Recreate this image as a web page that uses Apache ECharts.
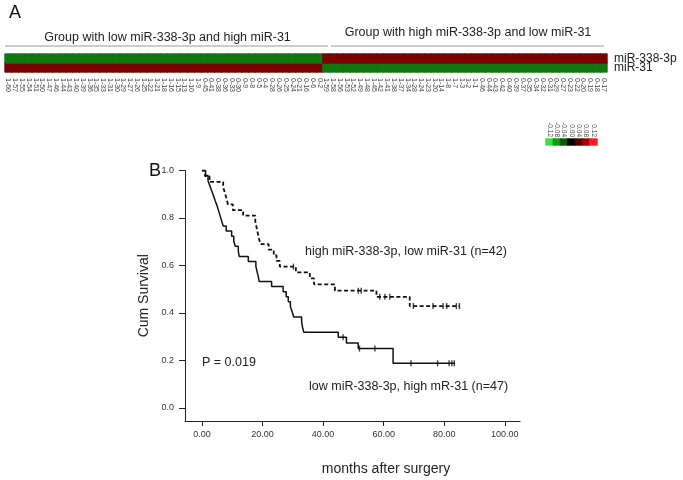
<!DOCTYPE html>
<html>
<head>
<meta charset="utf-8">
<script src="https://cdn.jsdelivr.net/npm/echarts@6/dist/echarts.min.js"></script>
<style>
  html, body { margin: 0; padding: 0; background: #fff; }
  #chart { width: 683px; height: 480px; }
</style>
</head>
<body>
<div id="chart"></div>
<script>
// --- panel A: sample ids per group and expression levels
var lowGroupIds = ['1-60','1-57','1-55','1-54','1-51','1-50','1-47','1-46','1-44','1-43','1-40','1-39','1-36','1-35','1-33','1-31','1-30','1-29','1-27','1-26','1-25','1-22','1-21','1-18','1-16','1-15','1-13','1-10','1-9',
  '0-45','0-41','0-38','0-36','0-33','0-30','0-9','0-8','0-5','0-4','0-28','0-26','0-25','0-24','0-21','0-16','0-6','0-2'];
var highGroupIds = ['1-59','1-58','1-56','1-53','1-52','1-49','1-48','1-45','1-42','1-41','1-38','1-37','1-34','1-28','1-24','1-23','1-20','1-14','1-8','1-7','1-3','1-2','1-1',
  '0-46','0-44','0-43','0-42','0-40','0-39','0-37','0-35','0-34','0-32','0-31','0-29','0-27','0-23','0-22','0-20','0-19','0-18','0-17'];
var genes = ['miR-31', 'miR-338-3p'];
var lowGroupLevels = [0.06, -0.06];   // [miR-31, miR-338-3p]
var highGroupLevels = [-0.06, 0.06];
var scaleTicks = ['-0.12','-0.08','-0.04','0.00','0.04','0.08','0.12'];
var scaleColors = ['#3ae23a','#169816','#0a560a','#000000','#560000','#a00000','#ff1c1c'];

// --- panel B: Kaplan-Meier steps [months, cum survival]
var lowMirSteps = [[0,1.0],[1.2,0.979],[2,0.957],[2.6,0.936],[3.2,0.915],[3.8,0.894],[4.4,0.872],[5,0.851],[5.5,0.83],[6,0.809],[6.5,0.787],[7,0.766],[8,0.745],[9.8,0.723],[10.5,0.702],[11,0.681],[12,0.66],[12.3,0.638],[15.3,0.617],[17.8,0.596],[18.2,0.574],[18.6,0.553],[18.9,0.532],[23,0.511],[26.8,0.489],[27.8,0.468],[28.5,0.447],[29.2,0.426],[29.8,0.404],[30.3,0.383],[32.9,0.362],[33.2,0.34],[33.6,0.319],[45,0.298],[47.7,0.274],[51.6,0.25],[63.1,0.188],[83.5,0.188]];
var lowMirCensored = [[46.6,0.298],[52,0.25],[57.1,0.25],[69,0.188],[77.8,0.188],[81.6,0.188],[82.5,0.188],[83.3,0.188]];
var highMirSteps = [[0,1.0],[1,0.976],[2.5,0.952],[7,0.929],[7.6,0.905],[8.1,0.881],[8.6,0.857],[10.2,0.833],[13.6,0.81],[17.6,0.786],[18,0.762],[18.4,0.738],[18.8,0.714],[19.3,0.69],[22,0.667],[23.7,0.643],[24.6,0.619],[25.7,0.595],[31,0.571],[35.6,0.546],[37,0.52],[43.9,0.494],[57.6,0.468],[68.6,0.429],[85.1,0.429]];
var highMirCensored = [[30.2,0.595],[51.6,0.494],[52.6,0.494],[58.7,0.468],[60.4,0.468],[62,0.468],[69.8,0.429],[76.3,0.429],[79.6,0.429],[80.8,0.429],[84,0.429],[85,0.429]];
var monthTicks = [0, 20, 40, 60, 80, 100];
var survivalTicks = [0, 0.2, 0.4, 0.6, 0.8, 1.0];

var font = 'Liberation Sans, Arial, sans-serif';

// colour of a value on the -0.12..0.12 scale
function scaleColor(v) {
  var pos = (v + 0.12) / 0.24 * (scaleColors.length - 1);
  var i = Math.max(0, Math.min(scaleColors.length - 2, Math.floor(pos)));
  return echarts.color.lerp(pos - i, [scaleColors[i], scaleColors[i + 1]]);
}
function cell(x, y, v) {
  var c = scaleColor(v);
  return { value: [x, y, v], itemStyle: { color: c, borderColor: c, borderWidth: 0.8 } };
}

var sampleIds = lowGroupIds.concat(highGroupIds);
var heatCells = [];
sampleIds.forEach(function (id, i) {
  var lv = i < lowGroupIds.length ? lowGroupLevels : highGroupLevels;
  genes.forEach(function (g, j) { heatCells.push(cell(i, j, lv[j])); });
});
var scaleCells = scaleTicks.map(function (t, i) { return cell(i, 0, parseFloat(t)); });

var myChart = echarts.init(document.getElementById('chart'));
var option = {
  animation: false,
  textStyle: { fontFamily: font },
  grid: [
    { left: 5, right: 76, top: 54, height: 18, containLabel: false, outerBoundsMode: 'none' },
    { left: 185, right: 163, top: 170.5, bottom: 59, containLabel: false, outerBoundsMode: 'none' },
    { left: 546, width: 51, top: 139, height: 6, containLabel: false, outerBoundsMode: 'none' }
  ],
  xAxis: [
    { gridIndex: 0, type: 'category', data: sampleIds, position: 'bottom',
      axisLine: { show: false }, axisTick: { show: false }, splitLine: { show: false },
      axisLabel: { interval: 0, rotate: -90, fontSize: 7, color: '#444', margin: 6, fontFamily: font } },
    { gridIndex: 1, type: 'value', min: -5.6, max: 105,
      axisLine: { onZero: false, lineStyle: { color: '#222', width: 1 } },
      axisTick: { customValues: monthTicks, length: 5, lineStyle: { color: '#222' } },
      axisLabel: { customValues: monthTicks, fontSize: 9, color: '#333', margin: 9,
        formatter: function (v) { return v.toFixed(2); } },
      splitLine: { show: false } },
    { gridIndex: 2, type: 'category', data: scaleTicks, position: 'top',
      axisLine: { show: false }, axisTick: { show: false },
      axisLabel: { interval: 0, rotate: 90, fontSize: 6.5, color: '#444', margin: 2 } }
  ],
  yAxis: [
    { gridIndex: 0, type: 'category', data: genes, position: 'right',
      axisLine: { show: false }, axisTick: { show: false },
      axisLabel: { interval: 0, fontSize: 12, color: '#222', margin: 7 } },
    { gridIndex: 1, type: 'value', min: -0.055, max: 1.0,
      name: 'Cum Survival', nameLocation: 'middle', nameGap: 34,
      nameTextStyle: { fontSize: 14, color: '#222' },
      axisLine: { show: true, onZero: false, lineStyle: { color: '#222', width: 1 } },
      axisTick: { show: true, customValues: survivalTicks, length: 6, lineStyle: { color: '#222' } },
      axisLabel: { customValues: survivalTicks, fontSize: 9, color: '#333', margin: 11,
        formatter: function (v) { return v.toFixed(1); } },
      splitLine: { show: false } },
    { gridIndex: 2, type: 'category', data: [''], show: false }
  ],
  series: [
    { type: 'heatmap', xAxisIndex: 0, yAxisIndex: 0, data: heatCells, emphasis: { disabled: true } },
    { type: 'heatmap', xAxisIndex: 2, yAxisIndex: 2, data: scaleCells, emphasis: { disabled: true } },
    { type: 'line', xAxisIndex: 1, yAxisIndex: 1, data: lowMirSteps, step: 'end', showSymbol: false,
      lineStyle: { color: '#111', width: 1.5 } },
    { type: 'line', xAxisIndex: 1, yAxisIndex: 1, data: highMirSteps, step: 'end', showSymbol: false,
      lineStyle: { color: '#111', width: 1.8, type: [4, 2.5] } },
    { type: 'scatter', xAxisIndex: 1, yAxisIndex: 1, data: lowMirCensored, symbol: 'rect', symbolSize: [1.4, 6],
      itemStyle: { color: '#111' } },
    { type: 'scatter', xAxisIndex: 1, yAxisIndex: 1, data: highMirCensored, symbol: 'rect', symbolSize: [1.4, 6],
      itemStyle: { color: '#111' } }
  ],
  graphic: [
    { type: 'text', left: 9, top: 4, style: { text: 'A', font: '18px ' + font, fill: '#111' } },
    { type: 'text', left: 149, top: 162, style: { text: 'B', font: '18px ' + font, fill: '#111' } },
    { type: 'text', x: 167.5, y: 38, style: { text: 'Group with low miR-338-3p and high miR-31', font: '12.5px ' + font, fill: '#222', align: 'center', verticalAlign: 'middle' } },
    { type: 'text', x: 468, y: 33, style: { text: 'Group with high miR-338-3p and low miR-31', font: '12.5px ' + font, fill: '#222', align: 'center', verticalAlign: 'middle' } },
    { type: 'line', shape: { x1: 5, y1: 46, x2: 328, y2: 46 }, style: { stroke: '#999', lineWidth: 1 } },
    { type: 'line', shape: { x1: 331, y1: 46, x2: 604, y2: 46 }, style: { stroke: '#999', lineWidth: 1 } },
    { type: 'text', x: 305, y: 252, style: { text: 'high miR-338-3p, low miR-31 (n=42)', font: '12.5px ' + font, fill: '#222', verticalAlign: 'middle' } },
    { type: 'text', x: 202, y: 363, style: { text: 'P = 0.019', font: '12.5px ' + font, fill: '#222', verticalAlign: 'middle' } },
    { type: 'text', x: 309, y: 387, style: { text: 'low miR-338-3p, high mR-31 (n=47)', font: '12.5px ' + font, fill: '#222', verticalAlign: 'middle' } },
    { type: 'text', x: 386, y: 469, style: { text: 'months after surgery', font: '14px ' + font, fill: '#222', align: 'center', verticalAlign: 'middle' } }
  ]
};
myChart.setOption(option);
</script>
</body>
</html>
